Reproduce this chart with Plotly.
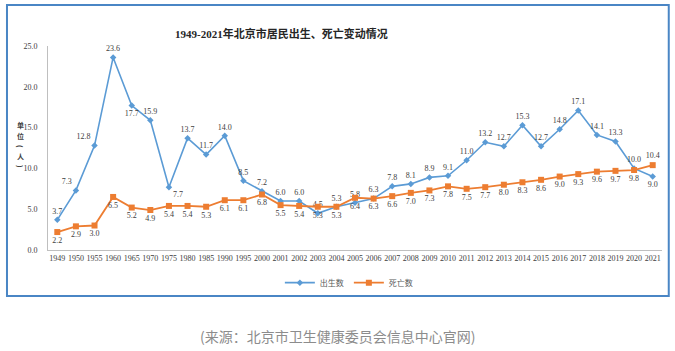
import plotly.graph_objects as go

years = ["1949", "1950", "1955", "1960", "1965", "1970", "1975", "1980", "1985", "1990",
         "1995", "2000", "2001", "2002", "2003", "2004", "2005", "2006", "2007", "2008",
         "2009", "2010", "2011", "2012", "2013", "2014", "2015", "2016", "2017", "2018",
         "2019", "2020", "2021"]
births = [3.7, 7.3, 12.8, 23.6, 17.7, 15.9, 7.7, 13.7, 11.7, 14.0,
          8.5, 7.2, 6.0, 6.0, 4.5, 5.3, 5.8, 6.3, 7.8, 8.1,
          8.9, 9.1, 11.0, 13.2, 12.7, 15.3, 12.7, 14.8, 17.1, 14.1,
          13.3, 10.0, 9.0]
deaths = [2.2, 2.9, 3.0, 6.5, 5.2, 4.9, 5.4, 5.4, 5.3, 6.1,
          6.1, 6.8, 5.5, 5.4, 5.3, 5.3, 6.4, 6.3, 6.6, 7.0,
          7.3, 7.8, 7.5, 7.7, 8.0, 8.3, 8.6, 9.0, 9.3, 9.6,
          9.7, 9.8, 10.4]
y_ticks = [0, 5, 10, 15, 20, 25]

title_text = "1949-2021年北京市居民出生、死亡变动情况"
source_text = "(来源：北京市卫生健康委员会信息中心官网)"
y_title_chars = ["单", "位", "(", "人", ")"]

# label placement
birth_pos = ["top center"] * len(years)
birth_pos[1] = "top left"
birth_pos[2] = "top left"
birth_pos[4] = "bottom center"
birth_pos[6] = "bottom right"
birth_pos[-1] = "bottom center"
death_pos = ["bottom center"] * len(years)
death_pos[-1] = "top center"

BLUE = "#5b9bd5"
ORANGE = "#ed7d31"
SERIF = "Liberation Serif, Noto Sans CJK SC"

fig = go.Figure()
fig.add_trace(go.Scatter(
    x=years, y=births, name="出生数", mode="lines+markers+text",
    line=dict(color=BLUE, width=1.6),
    marker=dict(symbol="diamond", size=5, color=BLUE),
    text=[f"{v:.1f}" for v in births], textposition=birth_pos,
    textfont=dict(family=SERIF, size=8, color="#404040"),
    cliponaxis=False,
))
fig.add_trace(go.Scatter(
    x=years, y=deaths, name="死亡数", mode="lines+markers+text",
    line=dict(color=ORANGE, width=1.8),
    marker=dict(symbol="square", size=6, color=ORANGE),
    text=[f"{v:.1f}" for v in deaths], textposition=death_pos,
    textfont=dict(family=SERIF, size=8, color="#404040"),
    cliponaxis=False,
))

fig.update_layout(
    width=675, height=351,
    margin=dict(l=48, r=13, t=46, b=101),
    paper_bgcolor="white", plot_bgcolor="white",
    showlegend=True,
    legend=dict(orientation="h", x=0.49, y=-0.16, xanchor="center", yanchor="middle",
                font=dict(family="Noto Sans CJK SC", size=8, color="#595959"),
                itemwidth=30, tracegroupgap=0, bgcolor="rgba(0,0,0,0)"),
    xaxis=dict(type="category", range=[-0.5, len(years) - 0.5],
               showgrid=False, showline=True, linecolor="#bfbfbf",
               linewidth=1, ticks="", tickfont=dict(family=SERIF, size=8, color="#404040"),
               tickangle=0, automargin=False),
    yaxis=dict(range=[0, 25], tickvals=y_ticks, ticktext=[f"{v:.1f}" for v in y_ticks],
               showgrid=False, showline=True, linecolor="#bfbfbf", linewidth=1,
               ticks="", ticklabelstandoff=8, zeroline=False,
               tickfont=dict(family=SERIF, size=8, color="#404040"), automargin=False),
    font=dict(family="Noto Sans CJK SC"),
)

fig.add_annotation(text=f"<b>{title_text}</b>", xref="paper", yref="paper",
                   x=0.381, y=1.059, showarrow=False, xanchor="center", yanchor="middle",
                   font=dict(family=SERIF, size=11, color="#262626"))

# vertical y-axis title, stacked characters
y_px = [125, 136, 146, 156, 166]
for ch, py in zip(y_title_chars, y_px):
    fig.add_annotation(text=f"<b>{ch}</b>", xref="paper", yref="paper",
                       x=-0.0456, y=(250 - py) / 204, showarrow=False,
                       xanchor="center", yanchor="middle", borderpad=0,
                       textangle=90 if ch in "()" else 0,
                       font=dict(family="Noto Sans CJK SC", size=7, color="#404040"))

fig.add_annotation(text=source_text, xref="paper", yref="paper",
                   x=0.472, y=-0.4216, showarrow=False, xanchor="center", yanchor="middle",
                   font=dict(family="Noto Sans CJK SC", size=14, color="#8c8c8c"))
fig.add_shape(type="rect", xref="paper", yref="paper",
              x0=-0.0668, x1=1.011, y0=-0.2255, y1=1.201,
              line=dict(color="#4a86c5", width=2), fillcolor="rgba(0,0,0,0)", layer="below")

fig.write_html("out.html")
